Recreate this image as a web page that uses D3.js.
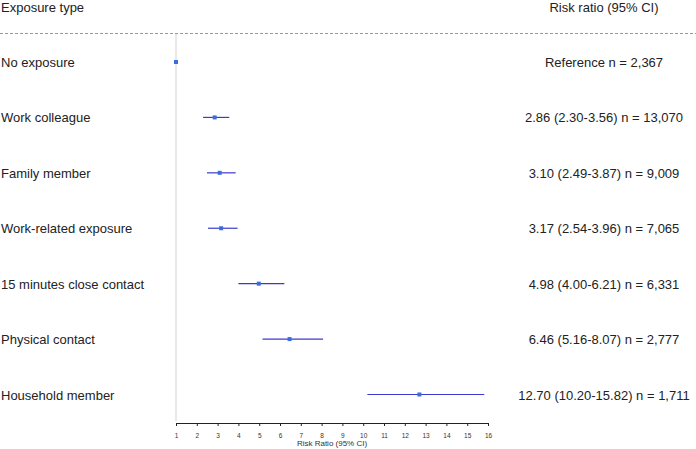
<!DOCTYPE html>
<html><head><meta charset="utf-8">
<script src="https://cdn.jsdelivr.net/npm/d3@7"></script>
<style>body{margin:0;background:#fff}text{font-family:"Liberation Sans",Arial,sans-serif}</style>
</head><body><svg id="c" width="696" height="449"></svg>
<script>
const categories = ["No exposure","Work colleague","Family member","Work-related exposure","15 minutes close contact","Physical contact","Household member"];
const rr = [1, 2.86, 3.10, 3.17, 4.98, 6.46, 12.70];
const lo = [null, 2.30, 2.49, 2.54, 4.00, 5.16, 10.20];
const hi = [null, 3.56, 3.87, 3.96, 6.21, 8.07, 15.82];
const nLabels = ["2,367","13,070","9,009","7,065","6,331","2,777","1,711"];
const tickValues = [1,2,3,4,5,6,7,8,9,10,11,12,13,14,15,16];

const svg = d3.select("#c");
const x = d3.scaleLinear().domain([1,16]).range([176,488]);
const y = d3.scalePoint().domain(categories).range([62,394.5]);

svg.append("text").attr("x",1).attr("y",12).attr("font-size",13).attr("fill","#222").text("Exposure type");
svg.append("text").attr("x",604).attr("y",12).attr("text-anchor","middle").attr("font-size",13).attr("fill","#222").text("Risk ratio (95% CI)");
svg.append("line").attr("x1",0).attr("x2",696).attr("y1",33.5).attr("y2",33.5)
  .attr("stroke","#999").attr("stroke-width",1.2).attr("stroke-dasharray","3,2");

svg.append("line").attr("x1",x(1)).attr("x2",x(1)).attr("y1",34).attr("y2",421)
  .attr("stroke","#e2e2e2").attr("stroke-width",1.5);

categories.forEach((c,i)=>{
  const yy = y(c);
  svg.append("text").attr("x",1).attr("y",yy+5).attr("font-size",13).attr("fill","#222").text(c);
  const lab = i===0 ? `Reference n = ${nLabels[i]}` :
    `${rr[i].toFixed(2)} (${lo[i].toFixed(2)}-${hi[i].toFixed(2)}) n = ${nLabels[i]}`;
  svg.append("text").attr("x",604).attr("y",yy+5).attr("text-anchor","middle").attr("font-size",13).attr("fill","#222").text(lab);
  if (lo[i]!==null) {
    svg.append("line").attr("x1",x(lo[i])).attr("x2",x(hi[i])).attr("y1",yy).attr("y2",yy)
      .attr("stroke","#3b3bcf").attr("stroke-width",1.2);
  }
  svg.append("rect").attr("x",x(rr[i])-2).attr("y",yy-2).attr("width",4).attr("height",4).attr("fill","#3d6be0");
});

const ax = svg.append("g").attr("transform","translate(0,423)")
  .call(d3.axisBottom(x).tickValues(tickValues).tickFormat(d3.format("d")).tickSize(3).tickSizeOuter(3));
ax.select(".domain").attr("stroke","#222");
ax.selectAll(".tick line").attr("stroke","#222");
ax.selectAll(".tick text").attr("font-size",6.5).attr("fill","#333").attr("y",12.5).attr("dy","0.32em").attr("font-family","Liberation Sans, Arial, sans-serif");
svg.append("text").attr("x",(x(1)+x(16))/2).attr("y",446).attr("text-anchor","middle").attr("font-size",8).attr("fill","#333").text("Risk Ratio (95% CI)");
</script></body></html>
